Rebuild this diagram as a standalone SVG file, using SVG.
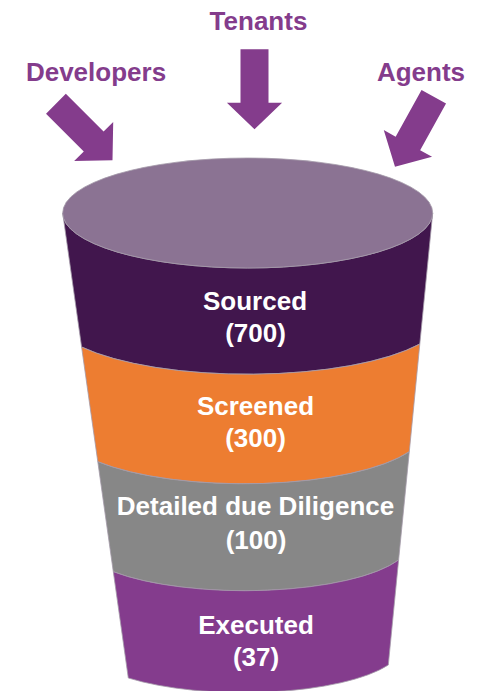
<svg xmlns="http://www.w3.org/2000/svg" width="481" height="691" viewBox="0 0 481 691">
  <style>
    .label { font-family: "Liberation Sans", Arial, sans-serif; font-weight: bold; font-size: 26px; fill: #843C8C; text-anchor: middle; }
    .stage { font-family: "Liberation Sans", Arial, sans-serif; font-weight: bold; font-size: 26px; fill: #FFFFFF; text-anchor: middle; }
    .arrow { fill: #843C8C; }
    .edge { stroke: #A59BAA; stroke-width: 0.8; }
  </style>
  <defs>
    <!-- downward block arrow, tip at the origin -->
    <path id="block-arrow" d="M -14 -80 H 14 V -26.6 H 27.6 L 0 0 L -27.6 -26.6 H -14 Z"/>
  </defs>

  <!-- inflow arrows -->
  <g id="connectors">
    <use href="#block-arrow" class="arrow" transform="translate(112.5 160.3) rotate(-45)"/>
    <use href="#block-arrow" class="arrow" transform="translate(254.5 129.3)"/>
    <use href="#block-arrow" class="arrow" transform="translate(395 166.7) rotate(29)"/>
  </g>

  <!-- source labels -->
  <g id="developers"><text class="label" x="96" y="81">Developers</text></g>
  <g id="tenants"><text class="label" x="258.5" y="29.5">Tenants</text></g>
  <g id="agents"><text class="label" x="421" y="81">Agents</text></g>

  <!-- funnel bands, top to bottom -->
  <g id="sourced">
    <path fill="#41164D" class="edge" d="M 62.7 213 L 81.6 347 A 196 58 0 0 0 419.8 344 L 432.7 213 A 185 55 0 0 1 62.7 213 Z"/>
    <text class="stage" x="255" y="309.5">Sourced</text>
    <text class="stage" x="255.5" y="341.5">(700)</text>
  </g>
  <g id="screened">
    <path fill="#ED7D31" class="edge" d="M 81.6 347 A 196 58 0 0 0 419.8 344 L 409.3 451.7 A 181 54 0 0 1 97.8 461.7 Z"/>
    <text class="stage" x="255.5" y="415">Screened</text>
    <text class="stage" x="255.5" y="447">(300)</text>
  </g>
  <g id="due-diligence">
    <path fill="#878787" class="edge" d="M 97.8 461.7 A 181 54 0 0 0 409.3 451.7 L 398.6 560 A 166 49 0 0 1 113.3 571.7 Z"/>
    <text class="stage" x="255.5" y="515">Detailed due Diligence</text>
    <text class="stage" x="256" y="548.5">(100)</text>
  </g>
  <g id="executed">
    <path fill="#843C8D" class="edge" d="M 113.3 571.7 A 166 49 0 0 0 398.6 560 L 388.3 665 A 159 47 0 0 1 128.3 678 Z"/>
    <text class="stage" x="256" y="633.5">Executed</text>
    <text class="stage" x="256" y="665.5">(37)</text>
  </g>

  <!-- funnel mouth -->
  <g id="mouth">
    <ellipse cx="247.7" cy="213" rx="185" ry="55" fill="#8B7393" class="edge"/>
  </g>
</svg>
